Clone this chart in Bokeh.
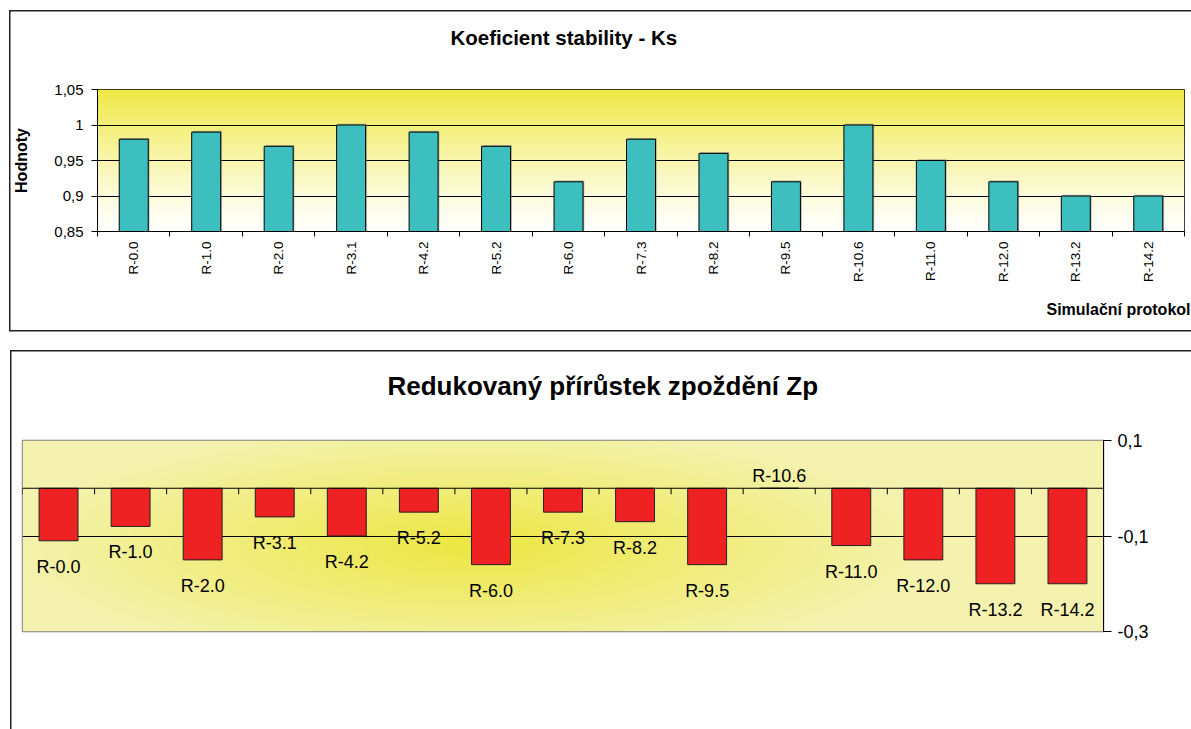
import math
import numpy as np
from bokeh.plotting import figure
from bokeh.layouts import column
from bokeh.models import FixedTicker, Range1d, Span, Title
from bokeh.core.properties import value
from bokeh.embed import file_html
from bokeh.resources import INLINE

# --- data -------------------------------------------------------------
protocols = ["R-0.0", "R-1.0", "R-2.0", "R-3.1", "R-4.2", "R-5.2", "R-6.0", "R-7.3",
             "R-8.2", "R-9.5", "R-10.6", "R-11.0", "R-12.0", "R-13.2", "R-14.2"]
ks_values = [0.98, 0.99, 0.97, 1.00, 0.99, 0.97, 0.92, 0.98,
             0.96, 0.92, 1.00, 0.95, 0.92, 0.90, 0.90]
zp_values = [-0.11, -0.08, -0.15, -0.06, -0.10, -0.05, -0.16, -0.05,
             -0.07, -0.16, 0.00, -0.12, -0.15, -0.20, -0.20]
ks_ticks = [0.85, 0.90, 0.95, 1.00, 1.05]
ks_tick_labels = ["0,85", "0,9", "0,95", "1", "1,05"]
zp_ticks = [0.1, -0.1, -0.3]
zp_tick_labels = ["0,1", "-0,1", "-0,3"]

FONT = "Liberation Sans"
n = len(protocols)
xs = [i + 1 for i in range(n)]
bounds = [i + 0.5 for i in range(n + 1)]


def pack_rgba(r, g, b):
    h, w = r.shape
    img = np.empty((h, w), dtype=np.uint32)
    v = img.view(dtype=np.uint8).reshape((h, w, 4))
    v[..., 0] = r
    v[..., 1] = g
    v[..., 2] = b
    v[..., 3] = 255
    return img


def chart_box(left, top, bottom, right=1300, color="#222222", w=1.5):
    """CSS background lines forming the open chart-area box around a figure."""
    g = f"linear-gradient({color},{color})"
    return {
        "background-image": ", ".join([g, g, g]),
        "background-size": f"{w}px {bottom - top}px, {right - left}px {w}px, {right - left}px {w}px",
        "background-position": f"{left}px {top}px, {left}px {top}px, {left}px {bottom - w}px",
        "background-repeat": "no-repeat",
    }


def no_frame_align(p):
    if "frame_align" in p.properties():
        p.frame_align = False


# ======================= top chart: Ks =================================
TOP_FRAME_W, TOP_FRAME_H = 1087, 142
top = figure(width=1191, height=340, x_range=Range1d(0.5, n + 0.5),
             y_range=Range1d(ks_ticks[0], ks_ticks[-1]),
             output_backend="svg", toolbar_location=None,
             min_border_left=97, min_border_right=7,
             min_border_top=89, min_border_bottom=109)
no_frame_align(top)
top.background_fill_color = None
top.border_fill_color = None
top.outline_line_color = "black"
top.outline_line_width = 1
top.styles = chart_box(9, 10, 331)

# vertical yellow-to-white wash behind the bars
f = np.linspace(0.0, 1.0, TOP_FRAME_H)[:, None] * np.ones((1, 4))
t = f ** 1.2
c_top = np.array([239, 233, 68])
c_bot = np.array([255, 255, 254])
img_top = pack_rgba(*(np.round(c_bot[i] + (c_top[i] - c_bot[i]) * t).astype(np.uint8) for i in range(3)))
top.image_rgba(image=[img_top], x=0.5, y=ks_ticks[0], dw=n, dh=ks_ticks[-1] - ks_ticks[0], level="image")

top.ygrid.ticker = FixedTicker(ticks=ks_ticks[1:-1])
top.ygrid.grid_line_color = "black"
top.xgrid.grid_line_color = None

# faint drop shadow, about one pixel up and to the right of each bar
px_x = n / TOP_FRAME_W
px_y = (ks_ticks[-1] - ks_ticks[0]) / TOP_FRAME_H
top.vbar(x=[x + 1.3 * px_x for x in xs], top=[v + 1.3 * px_y for v in ks_values],
         bottom=ks_ticks[0], width=0.4, fill_color="#7a7a7a", fill_alpha=0.55,
         line_color=None)
top.vbar(x=xs, top=ks_values, bottom=ks_ticks[0], width=0.4,
         fill_color="#3DBFBF", line_color="black", line_width=1)

yax = top.yaxis[0]
yax.ticker = FixedTicker(ticks=ks_ticks)
yax.major_label_overrides = dict(zip(ks_ticks, ks_tick_labels))
yax.major_tick_out = 6
yax.major_tick_in = 0
yax.minor_tick_line_color = None
yax.axis_line_color = "black"
yax.major_label_standoff = 8
yax.major_label_text_font = FONT
yax.major_label_text_font_size = "15px"
yax.major_label_text_color = "black"
yax.axis_label = "Hodnoty"
yax.axis_label_text_font = FONT
yax.axis_label_text_font_size = "16px"
yax.axis_label_text_font_style = "bold"
yax.axis_label_text_color = "black"
yax.axis_label_standoff = 21

xax = top.xaxis[0]
xax.ticker = FixedTicker(ticks=xs, minor_ticks=bounds)
xax.major_label_overrides = dict(zip(xs, protocols))
xax.major_label_orientation = math.pi / 2
xax.major_tick_line_color = None
xax.minor_tick_line_color = "black"
xax.minor_tick_out = 5
xax.minor_tick_in = 0
xax.axis_line_color = "black"
xax.major_label_standoff = 4
xax.major_label_text_font = FONT
xax.major_label_text_font_size = "13.5px"
xax.major_label_text_color = "black"

# chart title, lifted off the plot area by a blank spacer line
top.add_layout(Title(text=" ", text_font_size="1px", standoff=37), "above")
top.title.text = "Koeficient stability - Ks"
top.title.align = "left"
top.title.offset = 353
top.title.vertical_align = "middle"
top.title.standoff = 0
top.title.text_font = FONT
top.title.text_font_size = "20.5px"
top.title.text_font_style = "bold"
top.title.text_color = "black"

# category axis caption, right aligned under the tick labels
top.add_layout(Title(text="Simulační protokol", align="right", offset=-6,
                     vertical_align="middle", standoff=29, text_font=FONT,
                     text_font_size="16px", text_font_style="bold",
                     text_color="black"), "below")

# ======================= bottom chart: Zp ==============================
bot = figure(width=1191, height=389, x_range=Range1d(0.5, n + 0.5),
             y_range=Range1d(zp_ticks[-1], zp_ticks[0]),
             y_axis_location="right", x_axis_location=None,
             output_backend="svg", toolbar_location=None,
             min_border_left=22, min_border_right=88,
             min_border_top=100, min_border_bottom=98)
no_frame_align(bot)
bot.background_fill_color = None
bot.border_fill_color = None
bot.outline_line_color = "#808080"
bot.outline_line_width = 1.5
bot.styles = chart_box(10, 10, 600)

# soft yellow glow from the middle of the plot area
Hb, Wb = 191, 541
yy, xx = np.mgrid[0:Hb, 0:Wb]
fx = xx / (Wb - 1)
fy = yy / (Hb - 1)
dx = (fx - 0.414) * 1081 / 460
dy = (fy - 0.45) * 191 / 120
tb = np.clip(np.sqrt(dx ** 2 + dy ** 2), 0, 1) ** 0.9
c_mid = np.array([236, 230, 62])
c_edge = np.array([244, 242, 174])
img_bot = pack_rgba(*(np.round(c_mid[i] + (c_edge[i] - c_mid[i]) * tb).astype(np.uint8) for i in range(3)))
bot.image_rgba(image=[img_bot], x=0.5, y=zp_ticks[-1], dw=n, dh=zp_ticks[0] - zp_ticks[-1], level="image")

bot.ygrid.ticker = FixedTicker(ticks=zp_ticks[1:-1])
bot.ygrid.grid_line_color = "black"
bot.xgrid.grid_line_color = None

bot.vbar(x=xs, top=0, bottom=zp_values, width=0.54,
         fill_color="#EE2222", line_color="#222222", line_width=1)

# category axis running along zero, ticks between categories
bot.add_layout(Span(location=0, dimension="width", line_color="black", line_width=1))
tick_len = 6 * (zp_ticks[0] - zp_ticks[-1]) / 191
bot.segment(x0=bounds, y0=[0] * len(bounds), x1=bounds, y1=[-tick_len] * len(bounds),
            line_color="black", line_width=1)

# data labels carrying the protocol names
label_offsets = [26 if v < 0 else -12 for v in zp_values]
bot.text(x=xs, y=zp_values, text=protocols, y_offset=label_offsets,
         text_align="center", text_baseline="alphabetic",
         text_font=value(FONT), text_font_size="18px", text_color="black")

rax = bot.yaxis[0]
rax.ticker = FixedTicker(ticks=zp_ticks)
rax.major_label_overrides = dict(zip(zp_ticks, zp_tick_labels))
rax.major_tick_out = 8
rax.major_tick_in = 0
rax.minor_tick_line_color = None
rax.axis_line_color = "black"
rax.major_label_standoff = 6
rax.major_label_text_font = FONT
rax.major_label_text_font_size = "18px"
rax.major_label_text_color = "black"

bot.add_layout(Title(text=" ", text_font_size="1px", standoff=36), "above")
bot.title.text = "Redukovaný přírůstek zpoždění Zp"
bot.title.align = "left"
bot.title.offset = 365
bot.title.vertical_align = "middle"
bot.title.standoff = 0
bot.title.text_font = FONT
bot.title.text_font_size = "26px"
bot.title.text_font_style = "bold"
bot.title.text_color = "black"

page = column(top, bot, spacing=0)
with open("out.html", "w") as fh:
    fh.write(file_html(page, INLINE))
